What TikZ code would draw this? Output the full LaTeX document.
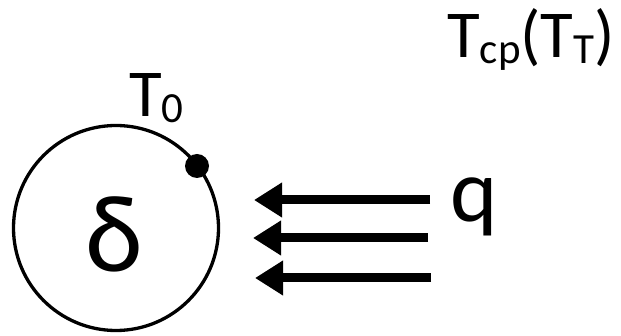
\documentclass[tikz,border=0pt]{standalone}
\usepackage{fontspec}
\setmainfont{Carlito}
\usetikzlibrary{arrows.meta}
\newcommand{\bigtxt}{\fontsize{67}{67}\selectfont}
\newcommand{\subtxt}[1]{\raisebox{-6pt}{\fontsize{43}{43}\selectfont #1}}
\begin{document}
\begin{tikzpicture}[x=1pt,y=1pt,
  lbl/.style={inner sep=0pt,anchor=base west,font=\bigtxt},
  flux/.style={line width=9pt,-{Triangle[length=28pt,width=33pt]}}]
\useasboundingbox (0,0) rectangle (621,-336);
\node[draw,circle,line width=3.3pt,minimum size=205pt,inner sep=0pt] (c) at (116,-228) {};
\node[fill,circle,minimum size=24pt,inner sep=0pt] (d) at (197,-166) {};
\node[inner sep=0pt,anchor=base,font=\fontsize{110}{110}\selectfont] (delta) at (114,-272) {δ};
\node[lbl] (t0) at (129,-117) {T\subtxt{0}};
\node[lbl] (tcp) at (447,-58) {T\subtxt{cp}(T\subtxt{T})};
\node[lbl,font=\fontsize{90}{90}\selectfont] (q) at (450,-222) {q};
\coordinate (a1s) at (430,-200); \coordinate (a1e) at (254,-200);
\coordinate (a2s) at (428,-238); \coordinate (a2e) at (253,-238);
\coordinate (a3s) at (431,-278); \coordinate (a3e) at (255,-278);
\draw[flux] (a1s) -- (a1e);
\draw[flux] (a2s) -- (a2e);
\draw[flux] (a3s) -- (a3e);
\end{tikzpicture}
\end{document}
